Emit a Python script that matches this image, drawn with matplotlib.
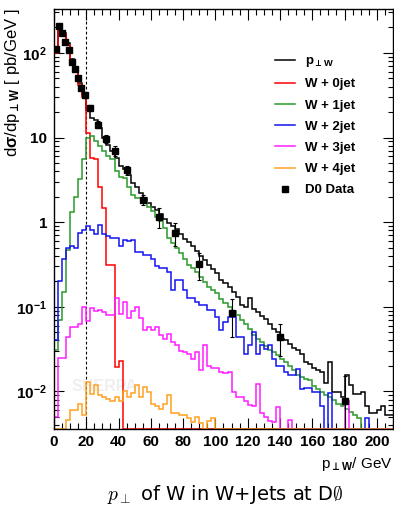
import numpy as np
import matplotlib
matplotlib.use('Agg')
import matplotlib.pyplot as plt
from matplotlib.lines import Line2D
from matplotlib.ticker import (FixedLocator, FixedFormatter, MultipleLocator,
                               LogLocator, NullFormatter)

plt.rcParams['font.family'] = ['Liberation Sans', 'DejaVu Sans']
plt.rcParams['font.weight'] = 'bold'
plt.rcParams['mathtext.fontset'] = 'custom'
plt.rcParams['mathtext.rm'] = 'Liberation Sans:bold'
plt.rcParams['mathtext.it'] = 'Liberation Sans:bold'
plt.rcParams['mathtext.bf'] = 'Liberation Sans:bold'
plt.rcParams['mathtext.sf'] = 'Liberation Sans:bold'
plt.rcParams['mathtext.fallback'] = 'stix'

# histogram bins: 2.5 GeV wide, starting at 0
bin_width = 2.5

total_pt = [102, 218, 170, 130, 85, 64, 44, 32, 21.4, 17.1, 16.3, 13.0, 9.9, 8.2, 6.9, 5.7, 4.6, 4.2, 3.6, 2.9, 2.6,
            2.2, 1.95, 1.7, 1.5, 1.38, 1.25, 1.1, 0.98, 0.9, 0.82, 0.72, 0.64, 0.58, 0.53, 0.46, 0.40, 0.36, 0.31, 0.28, 0.25, 0.21,
            0.19, 0.17, 0.15, 0.13, 0.105, 0.10, 0.126, 0.095, 0.087, 0.078, 0.072, 0.062, 0.055, 0.05, 0.042, 0.04, 0.036, 0.033, 0.031, 0.028, 0.022,
            0.021, 0.019, 0.018, 0.017, 0.0125, 0.022, 0.0098, 0.0098, 0.0086, 0.0155, 0.0118, 0.0094, 0.0094, 0.0098, 0.0068, 0.0055, 0.0055, 0.006, 0.0068, 0.0052, 0.0052]

w0jet = [100, 215, 165, 125, 80, 62, 42, 30, 11.4, 5.8, 5.6, 2.6, 1.47, 0.31, 0.31, 0.0195, 0.023] + [0] * 67

w1jet = [0.031, 0.069, 0.15, 0.47, 1.33, 2.0, 3.2, 5.5, 9.9, 10.3, 9.0, 7.9, 6.9, 6.0, 5.5, 4.0, 3.4, 3.3, 2.6, 2.1, 1.95,
         1.92, 1.75, 1.53, 1.34, 1.16, 1.02, 0.85, 0.65, 0.56, 0.49, 0.43, 0.37, 0.31, 0.285, 0.26, 0.226, 0.198, 0.173, 0.158, 0.144, 0.125,
         0.11, 0.1, 0.089, 0.081, 0.07, 0.062, 0.055, 0.046, 0.042, 0.038, 0.034, 0.031, 0.029, 0.027, 0.0245, 0.022, 0.020, 0.0178, 0.0155, 0.0148, 0.014,
         0.0135, 0.0117, 0.0107, 0.0098, 0.0090, 0.0086, 0.0079, 0.0072, 0.0068, 0.0062, 0.0057, 0.0052, 0.0048, 0, 0, 0, 0, 0, 0, 0, 0]

w2jet = [0.04, 0.2, 0.37, 0.49, 0.53, 0.5, 0.75, 0.8, 0.9, 0.8, 0.72, 0.92, 0.72, 0.68, 0.65, 0.65, 0.53, 0.62, 0.6, 0.62, 0.45,
         0.45, 0.41, 0.41, 0.37, 0.30, 0.285, 0.285, 0.26, 0.158, 0.207, 0.207, 0.158, 0.126, 0.126, 0.115, 0.105, 0.105, 0.091, 0.091, 0.076, 0.053,
         0.066, 0.076, 0.076, 0.044, 0.044, 0.028, 0.035, 0.05, 0.028, 0.035, 0.032, 0.035, 0.0245, 0.020, 0.020, 0.017, 0.0155, 0.0155, 0.0185, 0.0108, 0.011,
         0.011, 0.0098, 0.0098, 0.0068, 0, 0.0096, 0, 0, 0, 0, 0, 0, 0, 0, 0.0048, 0, 0, 0, 0, 0, 0]

w3jet = [0.005, 0.025, 0.025, 0.044, 0.057, 0.057, 0.063, 0.1, 0.068, 0.096, 0.09, 0.092, 0.087, 0.08, 0.08, 0.126, 0.083, 0.115, 0.073, 0.09, 0.1,
         0.073, 0.053, 0.058, 0.053, 0.058, 0.046, 0.042, 0.048, 0.038, 0.035, 0.03, 0.029, 0.028, 0.0245, 0.029, 0.0178, 0.035, 0.020, 0.019, 0.0187, 0.017,
         0.0163, 0.017, 0.0099, 0.0086, 0.0086, 0.0078, 0.007, 0.0068, 0.0124, 0.0056, 0.005, 0.0045, 0.0043, 0.0066, 0, 0, 0.0046, 0, 0, 0, 0,
         0, 0, 0, 0, 0, 0, 0, 0, 0, 0.0078, 0, 0, 0, 0, 0, 0, 0, 0, 0, 0, 0]

w4jet = [0, 0, 0, 0.0046, 0.006, 0.006, 0.0072, 0.0052, 0.0129, 0.0094, 0.0118, 0.009, 0.0086, 0.0082, 0.0078, 0.0086, 0.0078, 0.01, 0.0085, 0.0095, 0.0118,
         0.0086, 0.0114, 0.0098, 0.0072, 0.0068, 0.0062, 0.0072, 0.009, 0.0055, 0.0055, 0.0052, 0.0052, 0.0048, 0.0044, 0.005, 0.0042, 0, 0.0045, 0.0048, 0, 0] + [0] * 42

# D0 data points
data_x = [1, 3, 5, 7, 9, 11, 13, 15, 17, 19, 22.5, 27.5, 32.5, 37.5, 45, 55, 65, 75, 90, 110, 140, 180]
data_y = [112, 208, 173, 136, 107, 79, 65, 50, 38.7, 31.6, 22.4, 14.2, 9.7, 7.0, 4.1, 1.84, 1.16, 0.75, 0.32, 0.0835, 0.044, 0.0077]
data_err = [3, 6, 5, 4, 3, 3, 2.5, 2.5, 2, 2, 1.5, 1.3, 1.0, 0.9, 0.5, 0.25, 0.3, 0.23, 0.11, 0.04, 0.018, 0.0075]

ymin, ymax = 0.0036, 330

edges = bin_width * np.arange(len(total_pt) + 1)


def floor(vals):
    # empty bins are drawn along the bottom of the frame
    return np.maximum(np.asarray(vals, dtype=float), ymin)


fig = plt.figure(figsize=(3.94, 5.08), dpi=100)
ax = fig.add_axes([0.137, 0.1555, 0.8604, 0.8268])

ax.text(31, 0.0115, 'SHERPA', color='#efefef', fontsize=11.5, ha='center', va='center', zorder=0)

ax.axvline(20, color='black', ls=(0, (2.5, 2)), lw=0.8, zorder=1)

series = [
    (total_pt, 'black', r'p$_{\bot \mathrm{W}}$'),
    (w0jet, '#ff0000', 'W + 0jet'),
    (w1jet, '#2a9a2a', 'W + 1jet'),
    (w2jet, '#1414f0', 'W + 2jet'),
    (w3jet, '#ff1cff', 'W + 3jet'),
    (w4jet, '#ffa020', 'W + 4jet'),
]
handles = []
for vals, color, label in series:
    h = ax.stairs(floor(vals), edges, color=color, lw=1.1, baseline=None, label=label, zorder=2)
    handles.append(h)

ax.errorbar(data_x, data_y, yerr=data_err, fmt='s', color='black', ms=4.2,
            elinewidth=0.8, capsize=1.5, capthick=0.8, zorder=3)
handles.append(Line2D([], [], ls='none', marker='s', ms=4, color='black', label='D0 Data'))

ax.set_xlim(0, 210)
ax.set_yscale('log')
ax.set_ylim(ymin, ymax)

ax.xaxis.set_major_locator(MultipleLocator(20))
ax.xaxis.set_minor_locator(MultipleLocator(5))
ax.yaxis.set_major_locator(FixedLocator([0.01, 0.1, 1, 10, 100]))
ax.yaxis.set_major_formatter(FixedFormatter([r'$10^{-2}$', r'$10^{-1}$', '1', '10', r'$10^{2}$']))
ax.yaxis.set_minor_locator(LogLocator(base=10, subs=np.arange(2, 10)))
ax.yaxis.set_minor_formatter(NullFormatter())

ax.tick_params(which='both', direction='in', top=True, right=True, width=0.8, labelsize=11)
ax.tick_params(axis='x', which='major', length=8, pad=4)
ax.tick_params(axis='x', which='minor', length=4.3)
ax.tick_params(axis='y', which='major', length=7.2, pad=5)
ax.tick_params(axis='y', which='minor', length=3.6)
for s in ax.spines.values():
    s.set_linewidth(1.0)

ax.set_xlabel(r'p$_{\bot \mathrm{W}}$/ GeV', fontsize=11, ha='right')
ax.xaxis.set_label_coords(1.0, -0.062)
ax.set_ylabel(r'd$\sigma$/dp$_{\bot \mathrm{W}}$ [ pb/GeV ]', fontsize=12, ha='right')
ax.yaxis.set_label_coords(-0.093, 1.0)

ax.legend(handles=handles, loc='upper left', bbox_to_anchor=(275 / 394, 1 - 55 / 508),
          bbox_transform=fig.transFigure, frameon=False, fontsize=9.5, handlelength=1.5,
          handletextpad=0.8, labelspacing=0.68, borderpad=0, borderaxespad=0)

fig.text(0.571, 0.026, r'$p_\bot$ of W in W+Jets at D$\emptyset$', ha='center', va='center',
         fontsize=14, fontweight='normal', family='DejaVu Sans', math_fontfamily='cm')

fig.savefig('out.png', dpi=100)
